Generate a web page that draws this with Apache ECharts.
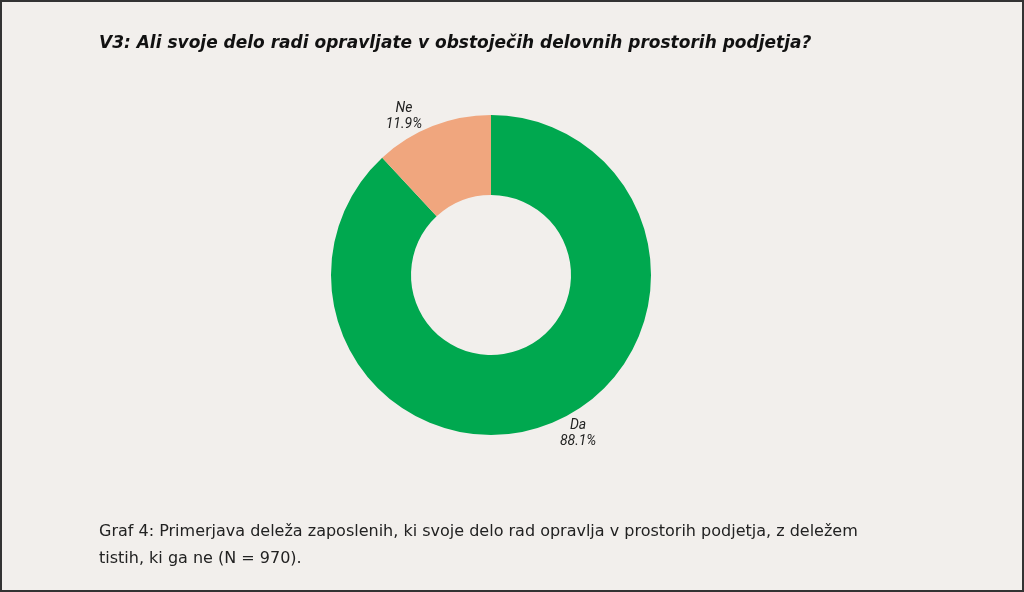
<!DOCTYPE html>
<html lang="sl">
<head>
<meta charset="UTF-8">
<title>V3</title>
<style>
  html, body { margin: 0; padding: 0; background: #f2efec; }
  #frame { position: absolute; left: 0; top: 0; width: 1020px; height: 588px; border: 2px solid #333; background: #f2efec; }
  #chart { width: 1020px; height: 588px; }
</style>
</head>
<body>
<div id="frame"><div id="chart"></div></div>
<script src="https://cdn.jsdelivr.net/npm/echarts@6/dist/echarts.min.js"></script>
<script>
const categories = ['Da', 'Ne'];
const shares = [88.1, 11.9];
const colors = ['#00a84f', '#f0a67e'];

let myChart = echarts.init(document.getElementById('chart'));
myChart.setOption({
  animation: false,
  backgroundColor: '#f2efec',
  title: [{
    text: 'V3: Ali svoje delo radi opravljate v obstoječih delovnih prostorih podjetja?',
    left: 92, top: 28,
    textStyle: { fontFamily: 'DejaVu Sans', fontSize: 17, fontWeight: 'bold', fontStyle: 'italic', color: '#111' }
  }, {
    text: 'Graf 4: Primerjava deleža zaposlenih, ki svoje delo rad opravlja v prostorih podjetja, z deležem\ntistih, ki ga ne (N = 970).',
    left: 92, top: 511,
    textStyle: { fontFamily: 'DejaVu Sans', fontSize: 16, fontWeight: 'normal', color: '#222', lineHeight: 27 }
  }],
  series: [{
    type: 'pie',
    center: [489, 273],
    radius: [80, 160],
    startAngle: 90,
    clockwise: true,
    data: categories.map((c, i) => ({ name: c, value: shares[i], itemStyle: { color: colors[i] } })),
    label: {
      position: 'outside',
      formatter: p => '{t|' + p.name + '}\n{t|' + p.value + '%}',
      rich: { t: { fontFamily: 'Roboto', fontStyle: 'italic', fontSize: 14, color: '#222', lineHeight: 16, width: 40, align: 'center' } }
    },
    labelLine: { show: false, length: 10, length2: 0 }
  }]
});
</script>
</body>
</html>
